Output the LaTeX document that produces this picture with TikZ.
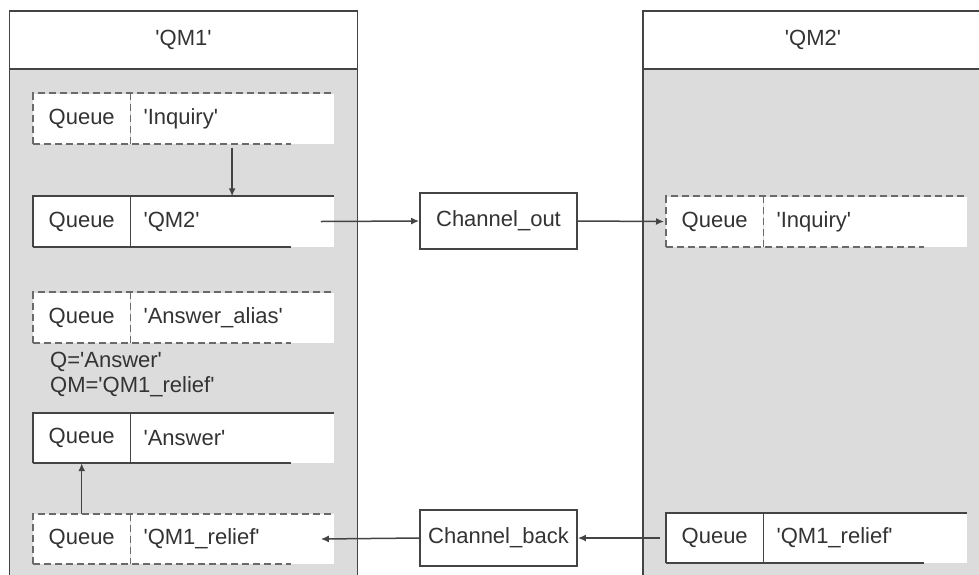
\documentclass[tikz,border=0pt]{standalone}
\usepackage{fontspec}
\setmainfont{Liberation Sans}[Ligatures=TeXOff]
\usetikzlibrary{arrows.meta,calc}
\definecolor{bodygray}{HTML}{DCDCDC}
\definecolor{linec}{HTML}{444444}
\definecolor{dashc}{HTML}{6A6A6A}
\definecolor{txtc}{HTML}{333333}
\tikzset{
  panelline/.style={draw=linec, line width=1.9pt},
  qcell/.style={minimum width=97pt, minimum height=50pt, inner sep=0pt, fill=white, anchor=west},
  lcell/.style={minimum width=203pt, minimum height=50pt, inner ysep=0pt, inner xsep=13pt, text width=177pt, align=left, fill=white, anchor=west},
  qsolid/.style={draw=linec, line width=1.7pt},
  qdash/.style={draw=dashc, line width=1.8pt, dash pattern=on 7pt off 4pt},
  chan/.style={draw=linec, line width=1.7pt, fill=white, minimum width=157pt, minimum height=56pt, inner sep=0pt},
  arr/.style={draw=linec, line width=1.5pt, -{Latex[length=8pt,width=7pt]}},
  note/.style={inner sep=0pt, anchor=base west}
}
\newcommand\queuebox[5]{%
  \node[qcell] (#1q) at (#2,#3) {Queue};
  \node[lcell] (#1l) at (#1q.east) {#4};
  \draw[#5] (#1q.south west) -- (#1q.north west) -- (#1l.north east);
  \draw[#5] (#1q.south west) -- ($(#1l.south east)+(-43,0)$);
  \draw[#5] (#1q.north east) -- (#1q.south east);
}
\begin{document}
\begin{tikzpicture}[x=1pt, y=-1pt, font=\fontsize{22}{26}\selectfont, text=txtc]
\useasboundingbox (0,0) rectangle (979,574);
\clip (0,0) rectangle (979,574);
\fill[white] (0,0) rectangle (979,574);
% panels
\path[panelline, fill=bodygray] (9.5,69) rectangle (357.5,600);
\path[panelline, fill=white] (9.5,11) rectangle (357.5,69);
\path[panelline, fill=bodygray] (643,69) rectangle (990,600);
\path[panelline, fill=white] (643,11) rectangle (990,69);
\node (hqm1) at (183.5,40) {'QM1'};
\node (hqm2) at (813,40) {'QM2'};
% queue boxes, left
\queuebox{linq}{33}{118.5}{'Inquiry'}{qdash}
\queuebox{lqm}{33}{221.5}{'QM2'}{qsolid}
\queuebox{lalias}{33}{317.5}{'Answer\_alias'}{qdash}
\node[note] (nq) at (50,367) {Q='Answer'};
\node[note] (nqm) at (50,392) {QM='QM1\_relief'};
\queuebox{lans}{33}{438}{'Answer'}{qsolid}
\queuebox{lrel}{33}{539}{'QM1\_relief'}{qdash}
% queue boxes, right
\queuebox{rinq}{666}{221.5}{'Inquiry'}{qdash}
\queuebox{rrel}{666}{538}{'QM1\_relief'}{qsolid}
% channels
\node[chan] (chout) at (498.5,221) {Channel\_out};
\node[chan] (chback) at (498.5,538) {Channel\_back};
% connectors
\draw[arr, shorten <=4pt] (linql.south) -- (lqml.north);
\draw[arr] ([xshift=-13pt]lqml.east) -- (chout.west);
\draw[arr] (chout.east) -- ([xshift=-2pt]rinqq.west);
\draw[arr] ([xshift=-6pt]rrelq.west) -- (chback.east);
\draw[arr] (chback.west) -- ([xshift=-13pt]lrell.east);
\draw[arr] (lrelq.north) -- (lansq.south);
\end{tikzpicture}
\end{document}
